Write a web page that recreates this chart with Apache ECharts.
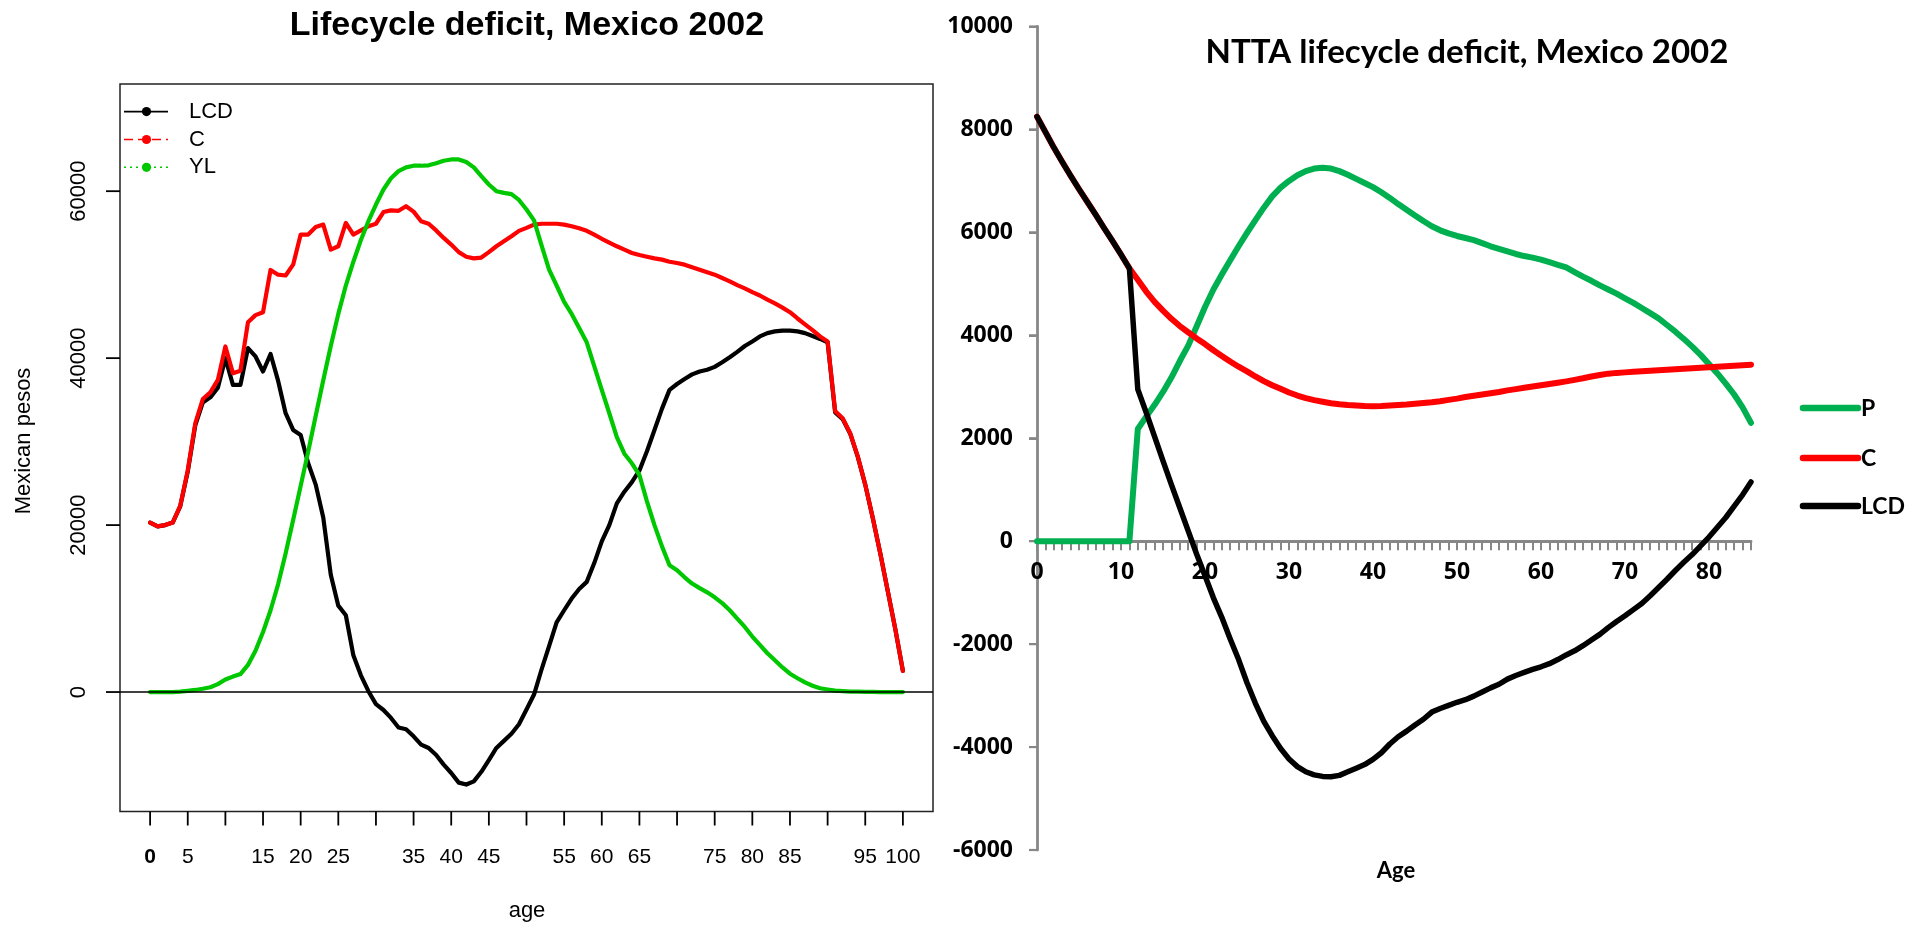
<!DOCTYPE html>
<html>
<head>
<meta charset="utf-8">
<title>Lifecycle deficit, Mexico 2002</title>
<script src="https://cdn.jsdelivr.net/npm/echarts@6/dist/echarts.min.js"></script>
<style>
  html, body { margin: 0; padding: 0; background: #fff; }
  #chart { width: 1923px; height: 927px; }
</style>
</head>
<body>
<div id="chart"></div>
<script>
// ---------- Left panel: per-capita profiles by single year of age, 0..100 ----------
const leftAges = Array.from({ length: 101 }, (_, i) => i);

const leftC = [
  20300, 19850, 20000, 20300, 22300, 26550, 32200, 35100, 35900, 37400,
  41400, 38200, 38500, 44300, 45150, 45500, 50560, 50000, 49900, 51200,
  54800, 54800, 55700, 56000, 53000, 53400, 56200, 54800, 55300, 55800,
  56100, 57500, 57700, 57650, 58200, 57550, 56400, 56100, 55300, 54400,
  53600, 52700, 52150, 51950, 52050, 52700, 53400, 54000, 54600, 55250,
  55600, 56000, 56100, 56100, 56100, 56000, 55800, 55550, 55250, 54800,
  54300, 53850, 53400, 53000, 52600, 52350, 52150, 51950, 51800, 51550,
  51400, 51200, 50900, 50600, 50300, 50000, 49600, 49200, 48750, 48350,
  47900, 47500, 47000, 46550, 46050, 45500, 44750, 44050, 43350, 42600,
  42000, 33650, 32800, 31000, 28250, 24850, 20850, 16600, 12050, 7500,
  2550
];

const leftYL = [
  0, 0, 0, 0, 50, 150, 250, 400, 580, 950,
  1500, 1850, 2150, 3250, 4950, 7200, 9800, 12900, 16600, 20600,
  24700, 28800, 33100, 37350, 41450, 45300, 48700, 51550, 54150, 56400,
  58400, 60200, 61550, 62400, 62850, 63050, 63050, 63100, 63350, 63650,
  63800, 63800, 63500, 62850, 61800, 60800, 60000, 59800, 59650, 58950,
  57800, 56500, 53500, 50600, 48700, 46750, 45300, 43600, 41900, 39050,
  36200, 33400, 30550, 28550, 27400, 26000, 22850, 20000, 17450, 15200,
  14600, 13750, 13000, 12450, 11950, 11350, 10650, 9800, 8800, 7800,
  6650, 5650, 4650, 3800, 2950, 2200, 1650, 1150, 750, 450,
  300, 170, 110, 60, 40, 20, 10, 0, 0, 0,
  0
];

const leftLCD = [
  20300, 19850, 20000, 20300, 22250, 26400, 31950, 34700, 35300, 36450,
  40000, 36800, 36800, 41200, 40200, 38400, 40500, 37300, 33400, 31400,
  30800, 27400, 24850, 20900, 14050, 10350, 9200, 4400, 2000, 100,
  -1450, -2150, -3100, -4250, -4450, -5300, -6300, -6700, -7550, -8700,
  -9700, -10850, -11080, -10700, -9550, -8150, -6700, -5850, -5000, -3850,
  -2100, -300, 2700, 5500, 8350, 9800, 11200, 12350, 13200, 15450,
  18050, 20000, 22600, 24000, 25150, 26550, 28850, 31400, 33950, 36200,
  36900, 37500, 38050, 38400, 38600, 38950, 39500, 40100, 40750, 41450,
  42000, 42600, 43000, 43200, 43300, 43300, 43200, 43000, 42650, 42300,
  41900, 33500, 32700, 30950, 28200, 24850, 20850, 16600, 12050, 7500,
  2550
];

// axis ranges (padded the way base R pads xlim/ylim) and tick layout
const leftXRange = [-4, 104];
const leftYRange = [-14310, 72840];
const leftXTickValues = [0, 5, 10, 15, 20, 25, 30, 35, 40, 45, 50, 55, 60, 65, 70, 75, 80, 85, 90, 95, 100];
const leftYTickValues = [0, 20000, 40000, 60000];
const leftXHiddenLabels = [10, 30, 50, 70, 90];

// ---------- Right panel: NTTA profiles, ages 0..85 ----------
const rightAges = Array.from({ length: 86 }, (_, i) => String(i));

const rightP = [
  0, 0, 0, 0, 0, 0, 0, 0, 0, 0,
  0, 0, 2180, 2420, 2650, 2900, 3180, 3500, 3800, 4170,
  4550, 4890, 5180, 5460, 5730, 5990, 6240, 6480, 6700, 6870,
  7000, 7110, 7190, 7240, 7255, 7240, 7190, 7120, 7040, 6960,
  6880, 6780, 6670, 6550, 6440, 6330, 6220, 6120, 6040, 5980,
  5930, 5890, 5850, 5790, 5730, 5680, 5630, 5580, 5540, 5510,
  5470, 5420, 5370, 5320, 5230, 5140, 5060, 4970, 4890, 4810,
  4720, 4630, 4530, 4430, 4330, 4200, 4070, 3930, 3780, 3620,
  3440, 3260, 3060, 2850, 2600, 2300
];

const rightC = [
  8250, 7950, 7650, 7370, 7100, 6840, 6590, 6340, 6080, 5830,
  5570, 5300, 5080, 4850, 4650, 4480, 4320, 4180, 4060, 3940,
  3830, 3710, 3600, 3490, 3390, 3300, 3200, 3110, 3030, 2960,
  2890, 2830, 2780, 2740, 2710, 2680, 2660, 2645, 2635, 2625,
  2620, 2625, 2635, 2645, 2655, 2670, 2685, 2700, 2720, 2745,
  2770, 2800, 2825, 2850, 2875, 2900, 2930, 2955, 2980, 3005,
  3030, 3055, 3080, 3105, 3135, 3165, 3200, 3230, 3255, 3270,
  3280, 3290, 3300, 3310, 3320, 3330, 3340, 3350, 3360, 3370,
  3380, 3390, 3400, 3410, 3420, 3430
];

const rightLCD = [
  8250, 7950, 7650, 7370, 7100, 6840, 6590, 6340, 6080, 5830,
  5570, 5300, 2950, 2500, 2030, 1560, 1100, 650, 200, -250,
  -670, -1100, -1480, -1900, -2300, -2750, -3150, -3500, -3780, -4030,
  -4230, -4380, -4480, -4540, -4570, -4575, -4550, -4480, -4410, -4340,
  -4240, -4110, -3940, -3800, -3690, -3570, -3460, -3320, -3250, -3190,
  -3130, -3080, -3010, -2930, -2850, -2780, -2680, -2610, -2550, -2490,
  -2440, -2380, -2300, -2210, -2130, -2030, -1920, -1810, -1680, -1560,
  -1450, -1330, -1210, -1060, -900, -740, -570, -410, -260, -90,
  80, 270, 460, 680, 900, 1150
];

const rightYRange = [-6000, 10000];
const rightYTickValues = [-6000, -4000, -2000, 0, 2000, 4000, 6000, 8000, 10000];
const rightLegend = ['P', 'C', 'LCD'];

// ---------- styling ----------
const R_FONT = "'Liberation Sans', Arial, Helvetica, sans-serif";
const XL_FONT = "Lato, 'Open Sans', sans-serif";
const XL_NUM_FONT = "'Open Sans', Lato, sans-serif";
const R_GREEN = '#00C800';
const XL_GREEN = '#00B050';
const XL_GREY = '#878787';
const R_INK = '#222';
const R_TICK_LEN = 14;
const R_TICK_W = 1.8;
const XL_TICK_LEN = 8;
const XL_TICK_W = 2.2;

// plot boxes (px)
const L_BOX = { left: 120, top: 84, width: 813, height: 727.5 };
const R_GRID = { left: 1037, top: 26.5, width: 714, height: 823.5 };

// linear maps of the plot boxes (same extents as their axes)
const lx = (v) => L_BOX.left + (v - leftXRange[0]) / (leftXRange[1] - leftXRange[0]) * L_BOX.width;
const ly = (v) => L_BOX.top + (leftYRange[1] - v) / (leftYRange[1] - leftYRange[0]) * L_BOX.height;
const ry = (v) => R_GRID.top + (rightYRange[1] - v) / (rightYRange[1] - rightYRange[0]) * R_GRID.height;
const xFirst = leftXTickValues[0], xLast = leftXTickValues[leftXTickValues.length - 1];
const yFirst = leftYTickValues[0], yLast = leftYTickValues[leftYTickValues.length - 1];
const L_LABELS = {
  left: lx(xFirst), width: lx(xLast) - lx(xFirst),
  top: ly(yLast), height: ly(yFirst) - ly(yLast)
};
const lLabelXOffset = (L_BOX.top + L_BOX.height) - (L_LABELS.top + L_LABELS.height);
const lLabelYOffset = L_LABELS.left - L_BOX.left;

// the right-hand category axis runs along the zero line
const rAxisOffset = -(R_GRID.top + R_GRID.height - ry(0));

const plain = (v) => String(v);
const pairs = (vals) => vals.map((v, i) => [leftAges[i], v]);

// Left-panel legend: line sample with a point marker and a label
function rLegendItem(y, color, dash, label) {
  return [
    { type: 'line', shape: { x1: 124, y1: y, x2: 168, y2: y },
      style: { stroke: color, lineWidth: 1.6, lineDash: dash } },
    { type: 'circle', shape: { cx: 146.5, cy: y, r: 4.6 }, style: { fill: color } },
    { type: 'text', x: 189, y: y,
      style: { text: label, fill: '#000', font: '22px ' + R_FONT, align: 'left', verticalAlign: 'middle' } }
  ];
}

// Right-panel legend: thick line sample followed by the label
function xlLegendItem(y, color, label) {
  return [
    { type: 'line', shape: { x1: 1803, y1: y, x2: 1858, y2: y },
      style: { stroke: color, lineWidth: 6.5, lineCap: 'round' } },
    { type: 'text', x: 1861, y: y + 1,
      style: { text: label, fill: '#000', font: 'bold 23px ' + XL_FONT, align: 'left', verticalAlign: 'middle' } }
  ];
}

const hiddenAxis = {
  axisLine: { show: false, onZero: false }, axisTick: { show: false },
  axisLabel: { show: false }, splitLine: { show: false }
};

const baseGraphic = [
  { type: 'text', x: 527, y: 26,
    style: { text: 'Lifecycle deficit, Mexico 2002', fill: '#000', font: 'bold 34px ' + R_FONT,
      align: 'center', verticalAlign: 'middle' } },
  { type: 'text', x: 24, y: 441, rotation: Math.PI / 2,
    style: { text: 'Mexican pesos', fill: '#000', font: '22px ' + R_FONT,
      align: 'center', verticalAlign: 'middle' } },
  { type: 'text', x: 527, y: 911,
    style: { text: 'age', fill: '#000', font: '22px ' + R_FONT,
      align: 'center', verticalAlign: 'middle' } },
  ...rLegendItem(111.6, '#000', null, 'LCD'),
  ...rLegendItem(139.5, '#FF0000', [9, 5], 'C'),
  ...rLegendItem(167.3, R_GREEN, [2, 4], 'YL'),
  { type: 'text', x: 1467, y: 52,
    style: { text: 'NTTA lifecycle deficit, Mexico 2002', fill: '#000', font: 'bold 33px ' + XL_FONT,
      align: 'center', verticalAlign: 'middle' } },
  { type: 'text', x: 1396, y: 871,
    style: { text: 'Age', fill: '#000', font: 'bold 22px ' + XL_FONT,
      align: 'center', verticalAlign: 'middle' } },
  ...xlLegendItem(408, XL_GREEN, rightLegend[0]),
  ...xlLegendItem(458, '#FF0000', rightLegend[1]),
  ...xlLegendItem(506, '#000', rightLegend[2])
];

const chart = echarts.init(document.getElementById('chart'), null, { renderer: 'canvas' });

chart.setOption({
  animation: false,
  backgroundColor: '#fff',
  grid: [
    Object.assign({ show: true, borderColor: R_INK, borderWidth: 1.5, backgroundColor: 'transparent' }, L_BOX),
    Object.assign({}, R_GRID),
    Object.assign({}, L_LABELS)
  ],
  xAxis: [
    Object.assign({ gridIndex: 0, type: 'value', min: leftXRange[0], max: leftXRange[1] }, hiddenAxis),
    {
      gridIndex: 1, type: 'category', data: rightAges, boundaryGap: false,
      offset: rAxisOffset,
      axisLine: { show: true, onZero: false, lineStyle: { color: XL_GREY, width: 2.8 } },
      axisTick: { show: true, interval: 0, length: 9, lineStyle: { color: XL_GREY, width: 2 } },
      axisLabel: { interval: 9, margin: 20, fontSize: 23, fontWeight: 'bold', fontFamily: XL_NUM_FONT, color: '#000' },
      splitLine: { show: false }
    },
    {
      // age labels of the left panel, under the box
      gridIndex: 2, type: 'value', min: xFirst, max: xLast, interval: leftXTickValues[1] - leftXTickValues[0],
      offset: lLabelXOffset,
      axisLine: { show: false, onZero: false }, axisTick: { show: false }, splitLine: { show: false },
      axisLabel: {
        margin: 35, fontSize: 21, fontFamily: R_FONT, color: '#000', showMinLabel: true, showMaxLabel: true,
        hideOverlap: false,
        formatter: (v) => (leftXHiddenLabels.indexOf(v) >= 0 ? '' : (v === 0 ? '{b|0}' : plain(v))),
        rich: { b: { fontSize: 21, fontFamily: R_FONT, fontWeight: 'bold', color: '#000' } }
      }
    }
  ],
  yAxis: [
    Object.assign({ gridIndex: 0, type: 'value', min: leftYRange[0], max: leftYRange[1] }, hiddenAxis),
    {
      gridIndex: 1, type: 'value', min: rightYRange[0], max: rightYRange[1],
      interval: rightYTickValues[1] - rightYTickValues[0],
      axisLine: { show: true, onZero: false, lineStyle: { color: XL_GREY, width: 2.8 } },
      axisTick: { show: true, length: XL_TICK_LEN, lineStyle: { color: XL_GREY, width: 2 } },
      axisLabel: { margin: 24, fontSize: 23, fontWeight: 'bold', fontFamily: XL_NUM_FONT, color: '#000',
        formatter: plain },
      splitLine: { show: false }
    },
    {
      // pesos labels of the left panel, beside the box
      gridIndex: 2, type: 'value', min: yFirst, max: yLast, interval: leftYTickValues[1] - leftYTickValues[0],
      offset: lLabelYOffset,
      axisLine: { show: false, onZero: false }, axisTick: { show: false }, splitLine: { show: false },
      axisLabel: { rotate: 90, margin: 30, fontSize: 22, fontFamily: R_FONT, color: '#000',
        showMinLabel: true, showMaxLabel: true, formatter: plain }
    }
  ],
  series: [
    {
      name: 'LCD', type: 'line', xAxisIndex: 0, yAxisIndex: 0, data: pairs(leftLCD),
      showSymbol: false, silent: true,
      lineStyle: { color: '#000', width: 4.2, join: 'round', cap: 'round' },
      itemStyle: { color: '#000' },
      markLine: {
        silent: true, symbol: ['none', 'none'], label: { show: false },
        lineStyle: { color: '#000', width: 1.5, type: 'solid' },
        data: [{ yAxis: 0 }]
      }
    },
    {
      name: 'C', type: 'line', xAxisIndex: 0, yAxisIndex: 0, data: pairs(leftC),
      showSymbol: false, silent: true,
      lineStyle: { color: '#FF0000', width: 4.2, join: 'round', cap: 'round' },
      itemStyle: { color: '#FF0000' }
    },
    {
      name: 'YL', type: 'line', xAxisIndex: 0, yAxisIndex: 0, data: pairs(leftYL),
      showSymbol: false, silent: true,
      lineStyle: { color: R_GREEN, width: 4.2, join: 'round', cap: 'round' },
      itemStyle: { color: R_GREEN }
    },
    {
      name: rightLegend[0], type: 'line', xAxisIndex: 1, yAxisIndex: 1, data: rightP,
      showSymbol: false, silent: true,
      lineStyle: { color: XL_GREEN, width: 6, join: 'round', cap: 'round' },
      itemStyle: { color: XL_GREEN }
    },
    {
      name: rightLegend[1], type: 'line', xAxisIndex: 1, yAxisIndex: 1, data: rightC,
      showSymbol: false, silent: true,
      lineStyle: { color: '#FF0000', width: 6, join: 'round', cap: 'round' },
      itemStyle: { color: '#FF0000' }
    },
    {
      name: rightLegend[2], type: 'line', xAxisIndex: 1, yAxisIndex: 1, data: rightLCD,
      showSymbol: false, silent: true,
      lineStyle: { color: '#000', width: 5.5, join: 'round', cap: 'round' },
      itemStyle: { color: '#000' }
    }
  ],
  graphic: baseGraphic
});

// Tick marks placed through each grid's own scales (linear box map as a fallback)
function toPixel(gridIndex, point, fallback) {
  let p = null;
  try { p = chart.convertToPixel({ gridIndex: gridIndex }, point); } catch (e) { p = null; }
  if (!p || !isFinite(p[0]) || !isFinite(p[1])) p = fallback;
  return p;
}

const tickMarks = [];
leftXTickValues.forEach((v) => {
  const p = toPixel(0, [v, leftYRange[0]], [lx(v), ly(leftYRange[0])]);
  tickMarks.push({ type: 'rect',
    shape: { x: p[0] - R_TICK_W / 2, y: p[1], width: R_TICK_W, height: R_TICK_LEN },
    style: { fill: '#000' } });
});
leftYTickValues.forEach((v) => {
  const p = toPixel(0, [leftXRange[0], v], [lx(leftXRange[0]), ly(v)]);
  tickMarks.push({ type: 'rect',
    shape: { x: p[0] - R_TICK_LEN, y: p[1] - R_TICK_W / 2, width: R_TICK_LEN, height: R_TICK_W },
    style: { fill: '#000' } });
});
rightYTickValues.forEach((v) => {
  const p = toPixel(1, [0, v], [R_GRID.left, ry(v)]);
  tickMarks.push({ type: 'rect',
    shape: { x: p[0] - XL_TICK_LEN, y: p[1] - XL_TICK_W / 2, width: XL_TICK_LEN, height: XL_TICK_W },
    style: { fill: XL_GREY } });
});

chart.setOption({ graphic: baseGraphic.concat(tickMarks) });
</script>
</body>
</html>
